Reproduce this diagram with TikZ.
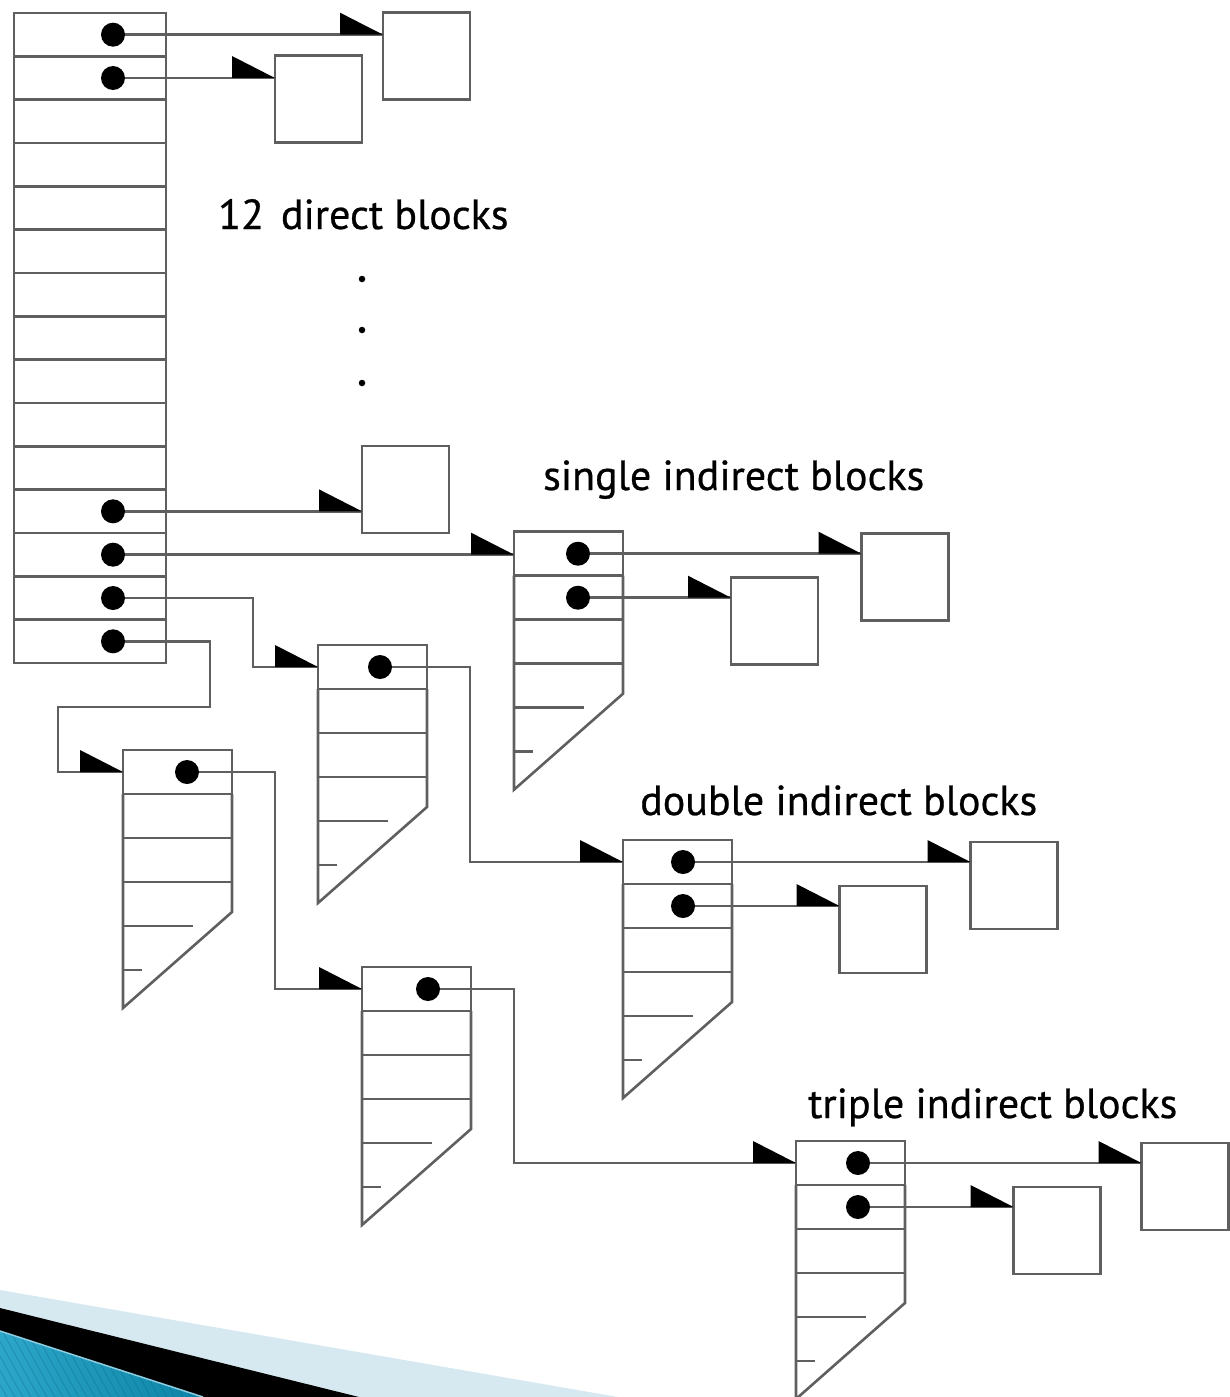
\documentclass[tikz,border=0pt]{standalone}
\usepackage{fontspec}
\setmainfont{PT Sans}[FakeBold=0.6]
\usetikzlibrary{calc,arrows.meta}
\definecolor{ln}{RGB}{95,95,95}
\definecolor{lblue}{RGB}{214,233,241}
\definecolor{tealA}{RGB}{44,166,201}
\definecolor{tealB}{RGB}{12,132,166}
\definecolor{tealL}{RGB}{140,205,225}

\pgfdeclarearrow{
  name = HalfTri,
  parameters = {\the\pgfarrowlength,\the\pgfarrowwidth},
  setup code = {
    \pgfarrowssettipend{\pgfarrowlength}
    \pgfarrowssetlineend{\pgfarrowlength}
    \pgfarrowssavethe\pgfarrowlength
    \pgfarrowssavethe\pgfarrowwidth
  },
  drawing code = {
    \pgfpathmoveto{\pgfqpoint{\pgfarrowlength}{0pt}}
    \pgfpathlineto{\pgfqpoint{0pt}{\pgfarrowwidth}}
    \pgfpathlineto{\pgfqpoint{0pt}{0pt}}
    \pgfpathclose
    \pgfusepathqfill
  },
  defaults = {length=43pt, width=22pt}
}

\tikzset{
  line/.style={draw=ln, line width=2.6pt},
  ptr/.style={line, -{HalfTri[color=black]}},
  cellrow/.style={draw=ln, line width=2.6pt, minimum width=152pt, minimum height=43.333pt, inner sep=0pt, outer sep=0pt},
  topcell/.style={draw=ln, line width=2.6pt, minimum width=109pt, minimum height=44pt, inner sep=0pt, outer sep=0pt},
  dbox/.style={draw=ln, line width=2.6pt, minimum width=87pt, minimum height=87pt, inner sep=0pt, outer sep=0pt},
  dot/.style={circle, fill=black, minimum size=24pt, inner sep=0pt, outer sep=0pt},
  edot/.style={circle, fill=black, minimum size=6.5pt, inner sep=0pt},
  lbl/.style={inner sep=0pt, font=\fontsize{42}{50}\selectfont, text=black},
  iblock/.pic={
    \node[topcell, anchor=north west] (-top) at (0,0) {};
    \draw[line] (0,44) -- (0,258) -- (109,162) -- (109,44);
    \draw[line] (0,88) -- (109,88) (0,132) -- (109,132) (0,176) -- (70,176) (0,220) -- (19,220);
  }
}

\begin{document}
\begin{tikzpicture}[x=1pt,y=-1pt]
\useasboundingbox (0,0) rectangle (1230,1397);

% bottom-left decoration
\fill[lblue] (0,1290) -- (618,1397) -- (0,1397) -- cycle;
\fill[black] (0,1308) -- (359,1397) -- (0,1397) -- cycle;
\shade[left color=tealA, right color=tealB] (0,1331) -- (203,1397) -- (0,1397) -- cycle;
\begin{scope}
  \clip (0,1331) -- (203,1397) -- (0,1397) -- cycle;
  \foreach \k in {-60,-52,...,210}
    \draw[tealB!70!black, opacity=0.25, line width=1pt] (\k,1320) -- ++(50,90);
\end{scope}
\draw[tealL, line width=1.5pt] (0,1331) -- (203,1397);

% inode table
\foreach \i in {1,...,15}
  \node[cellrow] (r\i) at (90,{13+43.3333*(\i-0.5)}) {};
\foreach \i in {1,2,12,13,14,15}
  \node[dot] (p\i) at ($(r\i.center)+(23,0)$) {};

% direct blocks
\node[dbox] (d1) at (426.5,56) {};
\node[dbox] (d2) at (318.5,99) {};
\node[dbox] (d3) at (405.5,489.5) {};
\draw[ptr] (p1) -- (p1 -| d1.west);
\draw[ptr] (p2) -- (p2 -| d2.west);
\draw[ptr] (p12) -- (p12 -| d3.west);

\node[lbl, anchor=base west] (l1) at (218,229) {12\hspace{17pt}direct blocks};
\node[edot] (e1) at (362,279) {};
\node[edot] (e2) at (362,330) {};
\node[edot] (e3) at (362,383) {};

% single indirect
\node[lbl, anchor=base west] (l2) at (543,490) {single indirect blocks};
\pic (S) at (514,531.7) {iblock};
\draw[ptr] (p13) -- (p13 -| S-top.west);
\node[dot] (s1) at ($(S-top.west)+(64,0)$) {};
\node[dot] (s2) at ($(S-top.west)+(64,44)$) {};
\node[dbox] (dA) at (905,577) {};
\node[dbox] (dB) at (774.5,621) {};
\draw[ptr] (s1) -- (s1 -| dA.west);
\draw[ptr] (s2) -- (s2 -| dB.west);

% double indirect
\pic (D1) at (318,645) {iblock};
\draw[ptr] (p14) -| ($(D1-top.west)+(-65,0)$) -- (D1-top.west);
\node[dot] (q1) at ($(D1-top.west)+(62,0)$) {};
\pic (D2) at (623,840) {iblock};
\draw[ptr] (q1) -| ($(D2-top.west)+(-153,0)$) -- (D2-top.west);
\node[dot] (q2) at ($(D2-top.west)+(60,0)$) {};
\node[dot] (q3) at ($(D2-top.west)+(60,44)$) {};
\node[dbox] (dC) at (1014,885.5) {};
\node[dbox] (dD) at (883,929.5) {};
\draw[ptr] (q2) -- (q2 -| dC.west);
\draw[ptr] (q3) -- (q3 -| dD.west);
\node[lbl, anchor=base west] (l3) at (640,815) {double indirect blocks};

% triple indirect
\coordinate (b1) at (210,707);
\pic (T1) at (123,750) {iblock};
\draw[ptr] (p15) -| (b1) -| ($(T1-top.west)+(-65,0)$) -- (T1-top.west);
\node[dot] (t1) at ($(T1-top.west)+(64,0)$) {};
\pic (T2) at (362,967) {iblock};
\draw[ptr] (t1) -| ($(T2-top.west)+(-87,0)$) -- (T2-top.west);
\node[dot] (t2) at ($(T2-top.west)+(66,0)$) {};
\pic (T3) at (796,1141) {iblock};
\draw[ptr] (t2) -| ($(T3-top.west)+(-282,0)$) -- (T3-top.west);
\node[dot] (t3) at ($(T3-top.west)+(62,0)$) {};
\node[dot] (t4) at ($(T3-top.west)+(62,44)$) {};
\node[dbox] (dE) at (1185,1186.5) {};
\node[dbox] (dF) at (1057,1230.5) {};
\draw[ptr] (t3) -- (t3 -| dE.west);
\draw[ptr] (t4) -- (t4 -| dF.west);
\node[lbl, anchor=base west] (l4) at (808,1118) {triple indirect blocks};
\end{tikzpicture}
\end{document}
